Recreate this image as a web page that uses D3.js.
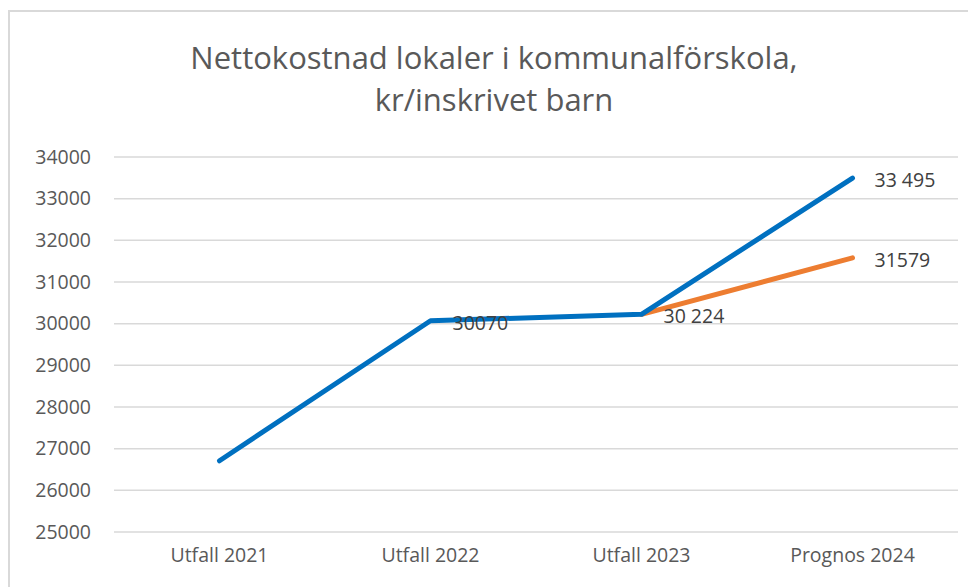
<!DOCTYPE html>
<html>
<head>
<meta charset="utf-8">
<script src="https://cdn.jsdelivr.net/npm/d3@7"></script>
<style>
  body { margin: 0; background: #fff; }
  svg { display: block; font-family: "Open Sans", sans-serif; }
</style>
</head>
<body>
<div id="chart"></div>
<script>
// Data
const categories = ["Utfall 2021", "Utfall 2022", "Utfall 2023", "Prognos 2024"];
const utfallValues = [26710, 30070, 30224, 33495];
const prognosValues = [null, null, 30224, 31579];
const utfallLabels = [null, "30070", "30 224", "33 495"];
const prognosLabels = [null, null, null, "31579"];
const yTicks = [25000, 26000, 27000, 28000, 29000, 30000, 31000, 32000, 33000, 34000];
const titleLines = ["Nettokostnad lokaler i kommunalförskola,", "kr/inskrivet barn"];

// Layout
const width = 968;
const height = 587;
const margin = { top: 157, right: 8, bottom: 55, left: 114 };
const plotWidth = width - margin.left - margin.right;
const plotHeight = 375;

const svg = d3.select("#chart")
    .append("svg")
    .attr("width", width)
    .attr("height", height);

// outer chart border
svg.append("rect")
    .attr("x", 9)
    .attr("y", 11)
    .attr("width", width + 20)
    .attr("height", height + 20)
    .attr("fill", "none")
    .attr("stroke", "#d9d9d9")
    .attr("stroke-width", 2);

svg.append("g")
    .selectAll("text")
    .data(titleLines)
    .enter()
    .append("text")
    .attr("x", 494)
    .attr("y", (d, i) => 69 + i * 42)
    .attr("text-anchor", "middle")
    .attr("fill", "#595959")
    .style("font-size", "31px")
    .text(d => d);

const chart = svg.append("g")
    .attr("transform", `translate(${margin.left},${margin.top})`);

const y = d3.scaleLinear().domain([25000, 34000]).range([plotHeight, 0]);
const x = d3.scalePoint().domain(categories).range([0, plotWidth - 2]).padding(0.5);

// gridlines
chart.append("g")
    .selectAll("line")
    .data(yTicks)
    .enter()
    .append("line")
    .attr("x1", 0)
    .attr("x2", plotWidth - 2)
    .attr("y1", d => y(d))
    .attr("y2", d => y(d))
    .attr("stroke", "#d9d9d9")
    .attr("stroke-width", 1.5);

// y labels
chart.append("g")
    .selectAll("text")
    .data(yTicks)
    .enter()
    .append("text")
    .attr("x", -23)
    .attr("y", d => y(d))
    .attr("dy", "0.35em")
    .attr("text-anchor", "end")
    .attr("fill", "#595959")
    .style("font-size", "19.5px")
    .text(d => d);

// x labels
chart.append("g")
    .selectAll("text")
    .data(categories)
    .enter()
    .append("text")
    .attr("x", d => x(d))
    .attr("y", plotHeight + 30)
    .attr("text-anchor", "middle")
    .attr("fill", "#595959")
    .style("font-size", "19.5px")
    .text(d => d);

const line = d3.line()
    .defined(d => d.value !== null)
    .x(d => x(d.cat))
    .y(d => y(d.value));

const prognosData = categories.map((c, i) => ({ cat: c, value: prognosValues[i], label: prognosLabels[i] }));
const utfallData = categories.map((c, i) => ({ cat: c, value: utfallValues[i], label: utfallLabels[i] }));

chart.append("path")
    .datum(prognosData)
    .attr("fill", "none")
    .attr("stroke", "#ed7d31")
    .attr("stroke-width", 5)
    .attr("stroke-linecap", "round")
    .attr("stroke-linejoin", "round")
    .attr("d", line);

chart.append("path")
    .datum(utfallData)
    .attr("fill", "none")
    .attr("stroke", "#0070c0")
    .attr("stroke-width", 5)
    .attr("stroke-linecap", "round")
    .attr("stroke-linejoin", "round")
    .attr("d", line);

// data labels, right of each point
const labelData = utfallData.concat(prognosData).filter(d => d.label);
chart.append("g")
    .selectAll("text")
    .data(labelData)
    .enter()
    .append("text")
    .attr("x", d => x(d.cat) + 22)
    .attr("y", d => y(d.value) + 2)
    .attr("dy", "0.35em")
    .attr("text-anchor", "start")
    .attr("fill", "#404040")
    .style("font-size", "19.5px")
    .text(d => d.label);
</script>
</body>
</html>
